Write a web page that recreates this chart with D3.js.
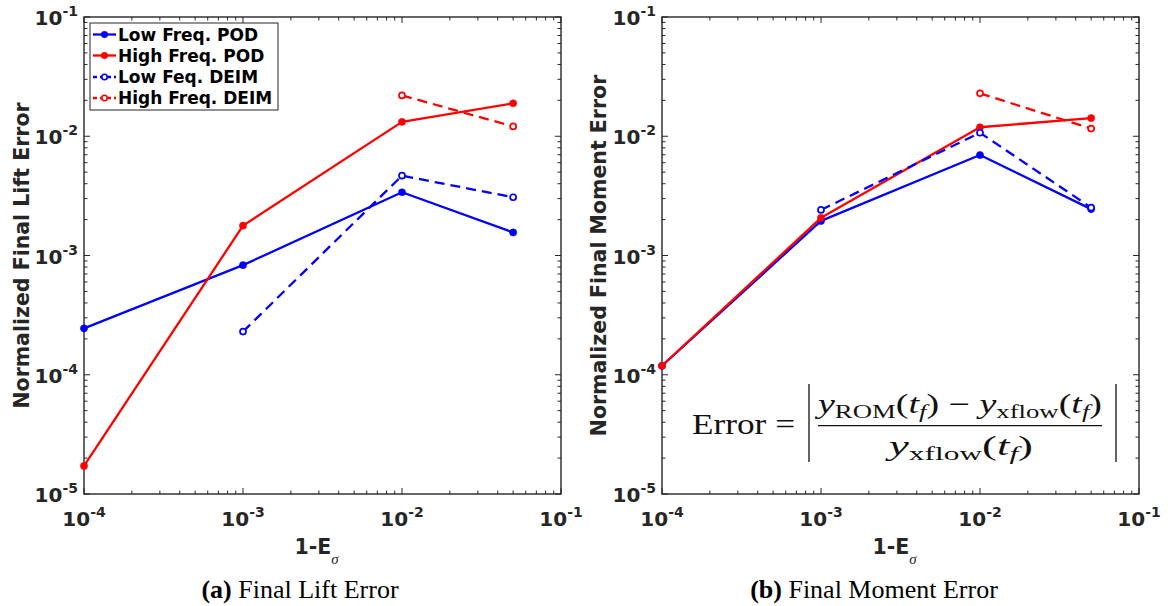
<!DOCTYPE html>
<html>
<head>
<meta charset="utf-8">
<script src="https://cdn.jsdelivr.net/npm/d3@7"></script>
<style>
  html, body { margin: 0; padding: 0; background: #fff; }
  svg { display: block; }
</style>
</head>
<body>
<svg id="chart" width="1175" height="606"></svg>
<script>
// ---------------- data ----------------
const xValues = [1e-4, 1e-3, 1e-2, 5e-2];
const xTickValues = [1e-4, 1e-3, 1e-2, 1e-1];
const yTickValues = [1e-5, 1e-4, 1e-3, 1e-2, 1e-1];
const seriesNames = ["Low Freq. POD", "High Freq. POD", "Low Feq. DEIM", "High Freq. DEIM"];

const liftLowPOD   = [2.45e-4, 8.3e-4, 3.39e-3, 1.56e-3];
const liftHighPOD  = [1.72e-5, 1.78e-3, 1.32e-2, 1.89e-2];
const liftLowDEIM  = [null, 2.3e-4, 4.67e-3, 3.08e-3];
const liftHighDEIM = [null, null, 2.2e-2, 1.21e-2];

const momentLowPOD   = [1.19e-4, 1.95e-3, 6.96e-3, 2.45e-3];
const momentHighPOD  = [1.19e-4, 2.07e-3, 1.19e-2, 1.42e-2];
const momentLowDEIM  = [null, 2.41e-3, 1.07e-2, 2.52e-3];
const momentHighDEIM = [null, null, 2.29e-2, 1.16e-2];

const captions = [["(a)", " Final Lift Error"], ["(b)", " Final Moment Error"]];
const yTitles = ["Normalized Final Lift Error", "Normalized Final Moment Error"];

// ---------------- styles ----------------
const BLUE = "#0000ff", RED = "#ff0000", AX = "#262626";
const seriesStyle = [
  {color: BLUE, dash: null, filled: true},
  {color: RED, dash: null, filled: true},
  {color: BLUE, dash: "10,6", filled: false},
  {color: RED, dash: "10,6", filled: false}
];
const SANS = "DejaVu Sans, sans-serif";
const SERIF = "Liberation Serif, Times New Roman, serif";

const svg = d3.select("#chart");

function supLabel(sel, exp) {
  sel.append("tspan").text("10");
  sel.append("tspan").attr("dy", -9).attr("font-size", 14).text(exp);
}

function panel(opts) {
  const {left, right, top, bottom, data, yTitle, yTitleX, caption, captionX} = opts;
  const x = d3.scaleLog().domain([1e-4, 1e-1]).range([left, right]);
  const y = d3.scaleLog().domain([1e-5, 1e-1]).range([bottom, top]);
  const g = svg.append("g");

  const minors = [];
  for (let e = -5; e < -1 + 0.5; e++) for (let m = 2; m <= 9; m++) minors.push(m * Math.pow(10, e));
  const xMin = minors.filter(v => v > 1e-4 && v < 1e-1);
  const yMin = minors.filter(v => v > 1e-5 && v < 1e-1);
  const major = 6, minor = 3.5;

  const tk = g.append("g").attr("stroke", AX).attr("stroke-width", 1);
  xTickValues.forEach(v => {
    tk.append("line").attr("x1", x(v)).attr("x2", x(v)).attr("y1", bottom).attr("y2", bottom - major);
    tk.append("line").attr("x1", x(v)).attr("x2", x(v)).attr("y1", top).attr("y2", top + major);
  });
  xMin.forEach(v => {
    tk.append("line").attr("x1", x(v)).attr("x2", x(v)).attr("y1", bottom).attr("y2", bottom - minor);
    tk.append("line").attr("x1", x(v)).attr("x2", x(v)).attr("y1", top).attr("y2", top + minor);
  });
  yTickValues.forEach(v => {
    tk.append("line").attr("y1", y(v)).attr("y2", y(v)).attr("x1", left).attr("x2", left + major);
    tk.append("line").attr("y1", y(v)).attr("y2", y(v)).attr("x1", right).attr("x2", right - major);
  });
  yMin.forEach(v => {
    tk.append("line").attr("y1", y(v)).attr("y2", y(v)).attr("x1", left).attr("x2", left + minor);
    tk.append("line").attr("y1", y(v)).attr("y2", y(v)).attr("x1", right).attr("x2", right - minor);
  });

  g.append("rect").attr("x", left).attr("y", top).attr("width", right - left).attr("height", bottom - top)
    .attr("fill", "none").attr("stroke", AX).attr("stroke-width", 1.4);

  xTickValues.forEach(v => {
    const t = g.append("text").attr("x", x(v)).attr("y", bottom + 32).attr("text-anchor", "middle")
      .attr("font-family", SANS).attr("font-weight", "bold").attr("font-size", 20).attr("fill", AX);
    supLabel(t, String(Math.round(Math.log10(v))));
  });
  yTickValues.forEach(v => {
    const t = g.append("text").attr("x", left - 6).attr("y", y(v) + 8).attr("text-anchor", "end")
      .attr("font-family", SANS).attr("font-weight", "bold").attr("font-size", 20).attr("fill", AX);
    supLabel(t, String(Math.round(Math.log10(v))));
  });

  const cx = (left + right) / 2, cy = (top + bottom) / 2;
  const xt = g.append("text").attr("x", cx - 6).attr("y", bottom + 60).attr("text-anchor", "middle")
    .attr("font-family", SANS).attr("font-weight", "bold").attr("font-size", 20.5).attr("fill", AX);
  xt.append("tspan").text("1-E");
  xt.append("tspan").attr("dy", 10).attr("font-family", SERIF).attr("font-style", "italic")
    .attr("font-weight", "normal").attr("font-size", 15).text("σ");

  g.append("text").attr("transform", `translate(${yTitleX},${cy}) rotate(-90)`).attr("text-anchor", "middle")
    .attr("font-family", SANS).attr("font-weight", "bold").attr("font-size", 20.5).attr("fill", AX)
    .text(yTitle);

  const c = g.append("text").attr("x", captionX).attr("y", 598).attr("text-anchor", "middle")
    .attr("font-family", SERIF).attr("font-size", 26).attr("fill", "#000");
  c.append("tspan").attr("font-weight", "bold").text(caption[0]);
  c.append("tspan").text(caption[1]);

  data.forEach((vals, i) => {
    const st = seriesStyle[i];
    const pts = xValues.map((xv, j) => ({x: xv, y: vals[j]})).filter(p => p.y != null);
    const line = d3.line().x(p => x(p.x)).y(p => y(p.y));
    g.append("path").attr("d", line(pts)).attr("fill", "none").attr("stroke", st.color)
      .attr("stroke-width", 2.3).attr("stroke-dasharray", st.dash).attr("stroke-linejoin", "round");
    g.selectAll(null).data(pts).enter().append("circle")
      .attr("cx", p => x(p.x)).attr("cy", p => y(p.y))
      .attr("r", st.filled ? 3.6 : 3)
      .attr("fill", st.filled ? st.color : "#fff")
      .attr("stroke", st.color).attr("stroke-width", st.filled ? 0.5 : 1.7);
  });
  return {x, y, g};
}

const P1 = panel({left: 84, right: 561, top: 17, bottom: 494,
  data: [liftLowPOD, liftHighPOD, liftLowDEIM, liftHighDEIM],
  yTitle: yTitles[0], yTitleX: 29, caption: captions[0], captionX: 300});
const P2 = panel({left: 662, right: 1139, top: 17, bottom: 494,
  data: [momentLowPOD, momentHighPOD, momentLowDEIM, momentHighDEIM],
  yTitle: yTitles[1], yTitleX: 606, caption: captions[1], captionX: 874});

// ---------------- legend (left panel) ----------------
(function legend() {
  const g = P1.g.append("g");
  g.append("rect").attr("x", 90).attr("y", 23).attr("width", 188).attr("height", 87)
    .attr("fill", "#fff").attr("stroke", AX).attr("stroke-width", 1);
  const rowY = [34.5, 55.5, 77, 98];
  seriesNames.forEach((name, i) => {
    const st = seriesStyle[i];
    const yy = rowY[i];
    g.append("line").attr("x1", 93).attr("x2", 116).attr("y1", yy).attr("y2", yy)
      .attr("stroke", st.color).attr("stroke-width", 2.3).attr("stroke-dasharray", st.dash ? "4,3" : null);
    g.append("circle").attr("cx", 104.5).attr("cy", yy).attr("r", st.filled ? 3.3 : 2.7)
      .attr("fill", st.filled ? st.color : "#fff").attr("stroke", st.color).attr("stroke-width", st.filled ? 0.5 : 1.6);
    g.append("text").attr("x", 118).attr("y", yy + 6).attr("font-family", SANS).attr("font-weight", "bold")
      .attr("font-size", 17).attr("fill", "#000").text(name);
  });
})();

// ---------------- equation (right panel) ----------------
(function equation() {
  const g = P2.g.append("g").attr("fill", "#111").attr("font-family", SERIF);
  g.append("text").attr("x", 692).attr("y", 434).attr("font-size", 29)
    .attr("textLength", 103).attr("lengthAdjust", "spacingAndGlyphs").text("Error =");
  g.append("line").attr("x1", 809).attr("x2", 809).attr("y1", 384).attr("y2", 462).attr("stroke", "#111").attr("stroke-width", 1.3);
  g.append("line").attr("x1", 1116).attr("x2", 1116).attr("y1", 384).attr("y2", 462).attr("stroke", "#111").attr("stroke-width", 1.3);
  g.append("line").attr("x1", 818).attr("x2", 1102).attr("y1", 425.7).attr("y2", 425.7).attr("stroke", "#111").attr("stroke-width", 1.2);

  function yPart(t, sub) {
    t.append("tspan").attr("font-style", "italic").text("y");
    t.append("tspan").attr("font-size", 19).attr("dy", 5).text(sub);
    t.append("tspan").attr("dy", -5).text("(");
    t.append("tspan").attr("font-style", "italic").text("t");
    t.append("tspan").attr("font-style", "italic").attr("font-size", 19).attr("dy", 5).text("f");
    t.append("tspan").attr("dy", -5).text(")");
  }
  const num = g.append("text").attr("x", 818).attr("y", 413).attr("font-size", 27)
    .attr("textLength", 284).attr("lengthAdjust", "spacingAndGlyphs");
  yPart(num, "ROM");
  num.append("tspan").text(" − ");
  yPart(num, "xflow");
  const den = g.append("text").attr("x", 889).attr("y", 455).attr("font-size", 27)
    .attr("textLength", 144).attr("lengthAdjust", "spacingAndGlyphs");
  yPart(den, "xflow");
})();
</script>
</body>
</html>
